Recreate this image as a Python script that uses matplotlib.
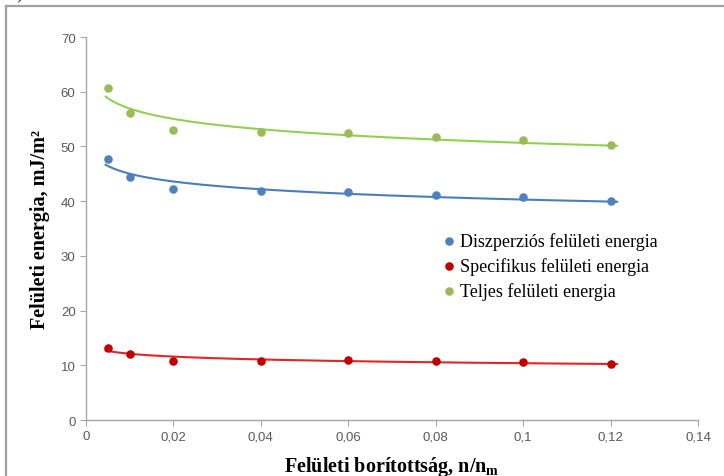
import numpy as np
import matplotlib
matplotlib.use('Agg')
import matplotlib.pyplot as plt
from matplotlib.lines import Line2D

# data
coverage = [0.005, 0.01, 0.02, 0.04, 0.06, 0.08, 0.1, 0.12]
dispersive = [47.7, 44.4, 42.2, 41.8, 41.6, 41.1, 40.7, 40.0]
specific = [13.2, 12.0, 10.8, 10.7, 10.9, 10.8, 10.6, 10.3]
total = [60.6, 56.1, 53.0, 52.6, 52.5, 51.7, 51.2, 50.3]

labels = ['Diszperziós felületi energia', 'Specifikus felületi energia', 'Teljes felületi energia']
x_ticks = [0, 0.02, 0.04, 0.06, 0.08, 0.1, 0.12, 0.14]
x_tick_labels = ['0', '0,02', '0,04', '0,06', '0,08', '0,1', '0,12', '0,14']
y_ticks = [0, 10, 20, 30, 40, 50, 60, 70]

plt.rcParams['mathtext.fontset'] = 'custom'
plt.rcParams['mathtext.rm'] = 'Liberation Serif:bold'
plt.rcParams['mathtext.bf'] = 'Liberation Serif:bold'

fig = plt.figure(figsize=(7.24, 4.77), dpi=100)
ax = fig.add_axes([0.1188, 0.1174, 0.8453, 0.8029])

# outer frame of the original figure box
fig.add_artist(Line2D([6 / 724, 1], [1 - 7 / 477, 1 - 7 / 477], color='#a0a0a0', lw=1.6))
fig.add_artist(Line2D([6 / 724, 6 / 724], [0, 1 - 7 / 477], color='#a0a0a0', lw=1.6))
fig.text(10 / 724, 1 - 3 / 477, 'a)', fontsize=12, family='Liberation Serif', va='bottom')

series = [
    (dispersive, '#4f81bd', '#4a7ebb'),
    (specific, '#c00000', '#e02626'),
    (total, '#9bbb59', '#92d050'),
]

xs = np.array(coverage)
x_fit = np.linspace(0.0045, 0.1215, 200)
for (vals, mcol, lcol), lab in zip(series, labels):
    # logarithmic trend line, like an Excel log trendline
    a, b = np.polyfit(np.log(xs), np.array(vals), 1)
    ax.plot(x_fit, a * np.log(x_fit) + b, color=lcol, lw=1.5, zorder=2)
    ax.scatter(coverage, vals, s=38, color=mcol, label=lab, zorder=3, linewidths=0)

ax.set_xlim(0, 0.14)
ax.set_ylim(0, 70)
ax.set_xticks(x_ticks)
ax.set_xticklabels(x_tick_labels)
ax.set_yticks(y_ticks)

for side in ['top', 'right']:
    ax.spines[side].set_visible(False)
for side in ['left', 'bottom']:
    ax.spines[side].set_color('#a6a6a6')
    ax.spines[side].set_linewidth(1.0)
ax.tick_params(axis='both', direction='out', length=4, color='#a6a6a6',
               labelcolor='#595959', labelsize=9.5)
for t in ax.get_xticklabels() + ax.get_yticklabels():
    t.set_family('Liberation Sans')

ax.set_xlabel(r'Felületi borítottság, n/n$_\mathregular{m}$', fontsize=14.5,
              family='Liberation Serif', fontweight='bold', labelpad=8)
ax.set_ylabel('Felületi energia, mJ/m²', fontsize=14.5,
              family='Liberation Serif', fontweight='bold', labelpad=8)

ax.legend(loc='upper left', bbox_to_anchor=(438 / 724, 1 - 233 / 477),
          bbox_transform=fig.transFigure, frameon=False,
          prop={'family': 'Liberation Serif', 'size': 13},
          handletextpad=0.0, handlelength=1.2, labelspacing=0.4,
          markerscale=1.0, borderaxespad=0, borderpad=0)

fig.savefig('out.png', dpi=100)
